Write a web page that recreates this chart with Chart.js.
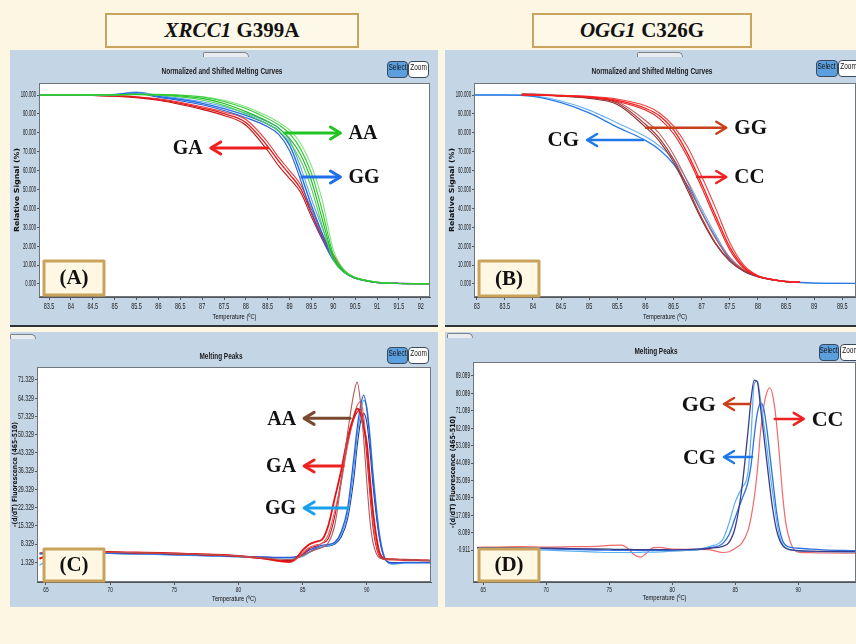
<!DOCTYPE html>
<html>
<head>
<meta charset="utf-8">
<script src="https://cdn.jsdelivr.net/npm/chart.js@4.4.1/dist/chart.umd.min.js"></script>
<style>
    body { margin: 0; width: 856px; height: 644px; overflow: hidden; position: relative; background: #fcf6e2; }
    .gene { position: absolute; top: 13px; height: 31px; border: 2px solid #c9a45e; background: #fdf8e8;
            font: bold 21px "Liberation Serif", "Times New Roman", serif; text-align: center; line-height: 31px; color: #111; }
    .panel { position: absolute; background: #c4d5e6; overflow: hidden; }
    .panel canvas { position: absolute; left: 0; top: 0; }
    .btn { position: absolute; height: 15px; border: 1px solid #3a4a5a; border-radius: 4px; line-height: 15px; text-align: center;
           font: 9px "Liberation Sans", Arial, sans-serif; color: #111; overflow: hidden; white-space: nowrap; }
    .btn span { display: inline-block; transform: scaleX(0.72); transform-origin: 50% 50%; margin: 0 -6px; }
    .sel { background: #5b9fdf; }
    .zm { background: #fff; }
    .tab { position: absolute; height: 4px; border: 1px solid #7d838b; border-bottom: none; background: #e9ecef; border-radius: 2px 6px 0 0; }
    .rule { position: absolute; left: 0; right: 0; bottom: 0; height: 2px; background: #30343a; }
</style>
</head>
<body>

<div class="gene" style="left:105px; width:250px;"><i>XRCC1</i> G399A</div>
<div class="gene" style="left:532px; width:216px;"><i>OGG1</i> C326G</div>

<div class="panel" style="left:10px; top:50px; width:428px; height:277px;">
    <canvas id="chartA" width="428" height="277"></canvas>
    <div class="tab" style="left:193px; top:2px; width:44px;"></div>
    <div class="btn sel" style="left:377px; top:11px; width:19px;"><span>Select</span></div>
    <div class="btn zm" style="left:398px; top:11px; width:19px;"><span>Zoom</span></div>
    <div class="rule"></div>
</div>
<div class="panel" style="left:445px; top:50px; width:411px; height:277px;">
    <canvas id="chartB" width="411" height="277"></canvas>
    <div class="tab" style="left:192px; top:2px; width:44px;"></div>
    <div class="btn sel" style="left:371px; top:10px; width:20px;"><span>Select</span></div>
    <div class="btn zm" style="left:393px; top:10px; width:20px;"><span>Zoom</span></div>
    <div class="rule"></div>
</div>
<div class="panel" style="left:10px; top:332px; width:428px; height:275px;">
    <canvas id="chartC" width="428" height="275"></canvas>
    <div class="tab" style="left:0px; top:2px; width:24px;"></div>
    <div class="btn sel" style="left:377px; top:15px; width:19px;"><span>Select</span></div>
    <div class="btn zm" style="left:398px; top:15px; width:19px;"><span>Zoom</span></div>
</div>
<div class="panel" style="left:445px; top:332px; width:411px; height:275px;">
    <canvas id="chartD" width="411" height="275"></canvas>
    <div class="tab" style="left:2px; top:1px; width:24px;"></div>
    <div class="btn sel" style="left:374px; top:12px; width:18px;"><span>Select</span></div>
    <div class="btn zm" style="left:395px; top:12px; width:20px;"><span>Zoom</span></div>
</div>

<script>
// ---- panel A: XRCC1 normalized melting curves ----
const tempA = [83.3, 84, 84.5, 85, 85.5, 86, 86.5, 87, 87.5, 88, 88.5, 88.75, 89, 89.25, 89.5, 89.75, 90, 90.25, 90.5, 90.75, 91, 91.5, 92.2];
const aaA1 = [100, 100, 100.1, 100.2, 100.4, 100.3, 99.9, 98.9, 96.6, 92.8, 87.5, 84.2, 79.5, 71.5, 58.5, 38.5, 15.5, 7, 3.4, 1.9, 0.9, 0.3, 0.2];
const aaA2 = [100, 100, 100, 100.1, 100.3, 100.1, 99.5, 98.2, 95.5, 91.2, 86, 82.5, 77, 68.5, 54.5, 34, 14, 6.5, 3.2, 1.8, 0.8, 0.3, 0.2];
const aaA3 = [100, 100, 100, 100.1, 100.5, 100.4, 100, 99.2, 97.2, 93.8, 88.8, 85.6, 81.5, 74.5, 62.5, 44, 18, 7.5, 3.6, 2, 1, 0.3, 0.2];
const aaA4 = [100, 100, 100, 100, 100.2, 99.9, 99, 97.4, 94.5, 90, 84.6, 81, 75, 65.5, 50.5, 30.5, 12.8, 6.2, 3.1, 1.7, 0.8, 0.3, 0.2];
const ggA1 = [100, 100, 99.9, 100.2, 101.2, 99.2, 97.6, 95.6, 92.8, 89.2, 84.6, 81, 73.5, 58.5, 41.5, 26.5, 13.4, 6.2, 3.1, 1.7, 0.8, 0.3, 0.2];
const ggA2 = [100, 100, 100, 100.4, 101.6, 99.8, 98.3, 96.4, 93.8, 90.4, 85.8, 82.6, 76, 62, 45, 29.5, 14.2, 6.5, 3.2, 1.8, 0.8, 0.3, 0.2];
const ggA3 = [100, 100, 99.8, 100, 100.8, 98.8, 97, 94.8, 91.8, 88, 83.2, 79.2, 70.5, 55, 37.5, 23.5, 12.5, 6, 3, 1.7, 0.8, 0.3, 0.2];
const gaA1 = [100, 100, 99.8, 99.5, 98.9, 97.6, 95.6, 93.1, 90.1, 85.5, 72.8, 65, 58, 50.5, 37.5, 24.8, 14.8, 6.8, 3.3, 1.8, 0.8, 0.3, 0.2];
const gaA2 = [100, 100, 99.9, 99.6, 99.1, 98, 96.2, 93.8, 91, 87, 75, 67, 60, 52.5, 39.5, 26.2, 15.5, 7, 3.4, 1.9, 0.9, 0.3, 0.2];
const gaA3 = [100, 100, 99.7, 99.3, 98.6, 97.2, 95, 92.4, 89.2, 84, 70.5, 62.5, 55.8, 48.5, 35.5, 23.5, 14, 6.5, 3.2, 1.8, 0.8, 0.3, 0.2];
const ticksXA = [83.5, 84, 84.5, 85, 85.5, 86, 86.5, 87, 87.5, 88, 88.5, 89, 89.5, 90, 90.5, 91, 91.5, 92];
const ticksYA = [0, 10, 20, 30, 40, 50, 60, 70, 80, 90, 100];

// ---- panel B: OGG1 normalized melting curves ----
const tempB = [82.95, 83.5, 84, 84.5, 85, 85.5, 86, 86.25, 86.5, 86.75, 87, 87.25, 87.5, 87.75, 88, 88.25, 88.5, 88.75, 89, 89.74];
const cgB1 = [100, 100, 99.3, 96, 90.5, 83, 76, 71, 63.5, 52, 38, 24.5, 13, 6.8, 3.8, 2.3, 1.3, 0.8, 0.5, 0.3];
const cgB2 = [100, 100, 99.6, 96.8, 92, 85.2, 78, 73, 66, 54.5, 40, 26, 14, 7.2, 4, 2.4, 1.4, 0.8, 0.5, 0.3];
const tempB2 = [83.8, 84, 84.5, 85, 85.5, 86, 86.25, 86.5, 86.75, 87, 87.25, 87.5, 87.75, 88, 88.25, 88.5, 88.75];
const ggB1 = [100.4, 100.5, 99.6, 98.6, 95.8, 84.5, 77, 66, 51, 35, 21.5, 12.5, 7, 4, 2.3, 1.3, 1];
const ggB2 = [100.2, 100.3, 99.8, 98.9, 96.4, 86.5, 79.5, 68.5, 54, 38, 24, 14, 7.5, 4.2, 2.4, 1.4, 1];
const ggB3 = [100.6, 100.4, 99.4, 98.2, 95, 83, 75.5, 64.5, 49.5, 34, 21, 12, 6.8, 3.9, 2.2, 1.2, 0.9];
const ccB1 = [100, 100, 99.6, 99, 97.2, 93, 89, 81.5, 69, 53, 36, 19.5, 9, 4.2, 2.4, 1.3, 1];
const ccB2 = [100, 100, 99.8, 99.3, 97.8, 94.3, 90.5, 83.5, 72.5, 57, 40, 22, 10, 4.5, 2.5, 1.4, 1];
const ccB3 = [100, 100, 99.5, 98.8, 96.6, 92, 87.5, 79.5, 67, 51, 34, 18, 8.3, 4, 2.3, 1.2, 0.9];
const ticksXB = [83, 83.5, 84, 84.5, 85, 85.5, 86, 86.5, 87, 87.5, 88, 88.5, 89, 89.5];

// ---- panel C: XRCC1 melting peaks ----
const tempC = [64.5, 66, 68, 70, 72, 74, 76, 78, 80, 82, 83, 84, 84.5, 85, 85.5, 86, 86.5, 87, 87.5, 88, 88.5, 89, 89.25, 89.5, 89.75, 90, 90.25, 90.5, 91, 91.5, 92, 93, 94, 95];
const aaC = [5, 5.3, 5.3, 5.2, 5, 4.8, 4.5, 4.2, 3.8, 3, 2.6, 2.4, 2.8, 4, 5.2, 6.2, 7, 8.8, 15.5, 32, 51, 66.5, 70.5, 63, 49, 32, 17, 8.5, 3, 2.5, 2.5, 2.3, 2.2, 2];
const gaC1 = [2.8, 5.2, 5.4, 5.3, 5.1, 4.9, 4.6, 4.3, 3.8, 2.8, 2, 1.6, 3, 6, 8.2, 9.2, 10, 15.5, 26, 36.5, 49, 57.5, 60.3, 58.5, 53, 47, 33, 20, 5, 2.6, 2.5, 2.3, 2.2, 2];
const gaC2 = [2.5, 5.1, 5.3, 5.2, 5, 4.8, 4.5, 4.2, 3.7, 2.6, 1.8, 1.3, 2.5, 5, 7, 8, 8.6, 12, 21, 32, 46, 57.5, 61.5, 63, 57.5, 45, 30, 16, 4, 2.3, 2.3, 2.2, 2.1, 1.9];
const gaC3 = [3, 5, 5.2, 5.1, 4.9, 4.7, 4.4, 4.1, 3.6, 2.7, 2.2, 2, 2.8, 4.2, 6.5, 7.5, 8.6, 10.5, 19, 33, 47, 56.5, 59, 60, 55, 42, 27, 14, 3.5, 2.4, 2.4, 2.3, 2.2, 2];
const ggC1 = [4.8, 5, 5, 4.9, 4.7, 4.5, 4.2, 3.9, 3.6, 3.3, 3.2, 3.2, 3.5, 4.5, 6, 7, 7.8, 8.2, 9, 13, 22, 42, 53, 61, 65.5, 60, 48, 33, 11, 2, 1, 1.2, 1.2, 1.2];
const ggC2 = [0.2, 4.6, 4.8, 4.7, 4.5, 4.3, 4, 3.7, 3.4, 3.2, 3, 3, 3.2, 3.6, 5, 6.3, 7.2, 7.8, 8.6, 12, 20, 38, 50, 58, 63.5, 61, 50, 35, 12, 2, 0.6, 1.1, 1.1, 1.1];
const ggC3 = [4.5, 4.8, 4.8, 4.7, 4.5, 4.3, 4.1, 3.8, 3.5, 3.3, 3.1, 3.1, 3.3, 4, 5.2, 6.5, 7.2, 7.6, 8.3, 11, 18, 34, 46, 55, 58.5, 55, 44, 30, 10, 2, 1.2, 1.3, 1.3, 1.3];
const ticksXC = [65, 70, 75, 80, 85, 90];
const ticksYC = [1.329, 8.329, 15.329, 22.329, 29.329, 36.329, 43.329, 50.329, 57.329, 64.329, 71.329];

// ---- panel D: OGG1 melting peaks ----
const tempD = [64.5, 66, 68, 70, 72, 74, 75, 76, 76.5, 77, 77.5, 78, 78.5, 79, 80, 82, 83, 84, 84.5, 85, 85.5, 86, 86.25, 86.5, 86.75, 87, 87.25, 87.5, 87.75, 88, 88.25, 88.5, 88.75, 89, 89.5, 90, 91, 92, 94.5];
const ggD = [0.2, 0.2, 0.1, 0, -0.2, -0.4, -0.5, -0.6, -0.6, -0.7, -0.7, -0.7, -0.7, -0.7, -0.8, -0.5, 0, 1, 3, 11, 30, 60, 77, 87, 86, 73, 59, 45, 31, 19, 10, 4.5, 1.5, 0, -1, -1.3, -1.5, -1.6, -1.8];
const cgD1 = [0, 0, -0.5, -1, -1.5, -2, -2.2, -2.2, -2.2, -2.2, -2.1, -2, -2, -1.9, -1.5, -0.5, 1, 4.5, 13, 24, 31, 39, 58, 85, 86.5, 77, 65, 52.5, 39, 27, 15.5, 6.5, 2, 0.3, -0.8, -1.2, -1.6, -1.8, -2];
const cgD2 = [0.3, 0.2, 0, -0.3, -0.6, -0.9, -1, -1.1, -1.1, -1.1, -1.1, -1.1, -1.1, -1.1, -1.2, -0.8, 0.3, 2.5, 7, 16, 25, 34, 43, 58, 70, 75, 72.5, 62, 48, 34, 20, 10, 4, 1.5, 0.3, 0, -0.5, -0.8, -1.2];
const ccD = [0.5, 0.6, 0.8, 0.6, 0.8, 1, 1.5, 1.6, -0.3, -3.5, -4.6, -2.2, 0.3, 0.4, -0.5, -0.6, -0.8, -2.2, -1.8, 0, 2.5, 9, 16, 26, 40, 60, 73, 80.5, 83, 78, 66, 48, 28, 13.5, 1, -2, -2.3, -2.4, -2.6];
const ticksXD = [65, 70, 75, 80, 85, 90];
const ticksYD = [-0.911, 8.089, 17.089, 26.089, 35.089, 44.089, 53.089, 62.089, 71.089, 80.089, 89.089];

const SANS = '"Liberation Sans", Arial, sans-serif';
const SERIF = '"Liberation Serif", "Times New Roman", serif';

function line(x, y, color, width) {
    return {
        data: x.map((t, i) => ({ x: t, y: y[i] })),
        borderColor: color,
        borderWidth: width || 1.1,
        pointRadius: 0,
        fill: false,
        cubicInterpolationMode: 'monotone'
    };
}

// text squeezed horizontally, like the narrow font of the instrument software
function squeezed(ctx, text, x, y, sx) {
    ctx.save();
    ctx.translate(x, y);
    ctx.scale(sx, 1);
    ctx.fillText(text, 0, 0);
    ctx.restore();
}

function fitted(ctx, text, x, y, width) {
    squeezed(ctx, text, x, y, width / ctx.measureText(text).width);
}

// title, tick labels, axis titles, arrows, genotype labels and the (A)-(D) tag box
function decor(cfg) {
    return {
        id: 'decor',
        beforeDraw(chart) {
            const { ctx, chartArea: a } = chart;
            ctx.save();
            ctx.fillStyle = '#ffffff';
            ctx.fillRect(a.left, a.top, a.right - a.left, a.bottom - a.top);
            ctx.restore();
        },
        afterDatasetsDraw(chart) {
            const { ctx, chartArea: a, scales } = chart;
            ctx.save();
            ctx.strokeStyle = '#6f757c';
            ctx.lineWidth = 1;
            ctx.strokeRect(a.left + 0.5, a.top + 0.5, a.right - a.left - 1, a.bottom - a.top - 1);

            ctx.fillStyle = '#1a1a1a';
            ctx.textAlign = 'center';
            ctx.textBaseline = 'middle';
            ctx.font = 'bold 9px ' + SANS;
            fitted(ctx, cfg.title, cfg.titleAt[0], cfg.titleAt[1], cfg.titleWidth);

            // tick labels
            ctx.fillStyle = '#222';
            ctx.font = cfg.xLabelSize + 'px ' + SANS;
            ctx.textAlign = 'center';
            ctx.textBaseline = 'middle';
            scales.x.ticks.forEach(t => {
                squeezed(ctx, String(t.value), scales.x.getPixelForValue(t.value), a.bottom + cfg.xLabelGap, 0.65);
            });
            ctx.font = '8.5px ' + SANS;
            ctx.textAlign = 'right';
            scales.y.ticks.forEach(t => {
                squeezed(ctx, t.value.toFixed(3), a.left - 3, scales.y.getPixelForValue(t.value), cfg.ySqueeze);
            });

            // axis titles
            ctx.fillStyle = '#111';
            ctx.textAlign = 'center';
            ctx.font = '7.5px ' + SANS;
            fitted(ctx, 'Temperature (ºC)', (a.left + a.right) / 2, cfg.xTitleY, 44);
            ctx.save();
            ctx.translate(cfg.yTitleX, (a.top + a.bottom) / 2);
            ctx.rotate(-Math.PI / 2);
            ctx.font = 'bold 7px "DejaVu Sans", ' + SANS;
            fitted(ctx, cfg.yTitle, 0, 0, cfg.yTitleWidth);
            ctx.restore();

            cfg.arrows.forEach(ar => {
                const x1 = scales.x.getPixelForValue(ar.from);
                const x2 = scales.x.getPixelForValue(ar.to);
                const y = scales.y.getPixelForValue(ar.at);
                const dir = Math.sign(x2 - x1);
                ctx.strokeStyle = ar.color;
                ctx.lineWidth = cfg.arrowWidth;
                ctx.lineCap = 'round';
                ctx.lineJoin = 'round';
                ctx.beginPath();
                ctx.moveTo(x1, y);
                ctx.lineTo(x2, y);
                ctx.stroke();
                ctx.beginPath();
                ctx.moveTo(x2 - dir * 9, y - 6);
                ctx.lineTo(x2 + dir, y);
                ctx.lineTo(x2 - dir * 9, y + 6);
                ctx.stroke();
                ctx.fillStyle = '#111';
                ctx.font = 'bold ' + cfg.labelSize + 'px ' + SERIF;
                ctx.textAlign = dir > 0 ? 'left' : 'right';
                ctx.fillText(ar.label, x2 + dir * 9, y + 1);
            });

            const b = cfg.tagBox;
            ctx.fillStyle = '#fdf7e3';
            ctx.fillRect(b[0], b[1], b[2] - b[0], b[3] - b[1]);
            ctx.strokeStyle = '#c9a35c';
            ctx.lineWidth = 3;
            ctx.strokeRect(b[0], b[1], b[2] - b[0], b[3] - b[1]);
            ctx.fillStyle = '#111';
            ctx.font = 'bold 21px ' + SERIF;
            ctx.textAlign = 'center';
            ctx.fillText(cfg.tag, (b[0] + b[2]) / 2, (b[1] + b[3]) / 2 + 1);
            ctx.restore();
        }
    };
}

function makeChart(id, cfg) {
    const canvas = document.getElementById(id);
    const H = canvas.height;
    const W = canvas.width;
    return new Chart(canvas, {
        type: 'line',
        data: { datasets: cfg.series },
        options: {
            responsive: false,
            animation: false,
            layout: { padding: { left: 0, top: cfg.area.top, right: W - cfg.area.right, bottom: 0 } },
            plugins: { legend: { display: false }, tooltip: { enabled: false }, title: { display: false } },
            scales: {
                x: {
                    type: 'linear',
                    min: cfg.xRange[0],
                    max: cfg.xRange[1],
                    afterBuildTicks: s => { s.ticks = cfg.xTicks.map(v => ({ value: v })); },
                    afterFit: s => { s.height = H - cfg.area.bottom; },
                    ticks: { display: false },
                    grid: { drawOnChartArea: false, drawTicks: true, tickLength: 3, color: '#555' },
                    border: { display: true, color: '#555' }
                },
                y: {
                    type: 'linear',
                    min: cfg.yRange[0],
                    max: cfg.yRange[1],
                    afterBuildTicks: s => { s.ticks = cfg.yTicks.map(v => ({ value: v })); },
                    afterFit: s => { s.width = cfg.area.left; },
                    ticks: { display: false },
                    grid: { drawOnChartArea: false, drawTicks: true, tickLength: 2, color: '#555' },
                    border: { display: true, color: '#555' }
                }
            }
        },
        plugins: [decor(cfg)]
    });
}

makeChart('chartA', {
    area: { left: 29, top: 33, right: 420, bottom: 247 },
    xRange: [83.27, 92.21], yRange: [-6.88, 106.35],
    xTicks: ticksXA, yTicks: ticksYA, ySqueeze: 0.5, xLabelGap: 10, xLabelSize: 8.5,
    yTitle: 'Relative Signal (%)', yTitleX: 7, yTitleWidth: 84, xTitleY: 267,
    title: 'Normalized and Shifted Melting Curves', titleAt: [212, 22], titleWidth: 121,
    tag: '(A)', tagBox: [34, 211, 94, 245],
    arrowWidth: 3, labelSize: 20,
    arrows: [
        { from: 88.89, to: 90.14, at: 79.9, color: '#22c322', label: 'AA' },
        { from: 88.5, to: 87.22, at: 72, color: '#ee2020', label: 'GA' },
        { from: 89.28, to: 90.14, at: 56.6, color: '#1f6fe8', label: 'GG' }
    ],
    series: [
        line(tempA, aaA1, '#2ccc2c'), line(tempA, aaA2, '#1fb81f'), line(tempA, aaA3, '#82e082'), line(tempA, aaA4, '#4fd34f'),
        line(tempA, ggA1, '#1f6fe8', 1.4), line(tempA, ggA2, '#5da2f2'), line(tempA, ggA3, '#2a62d0'),
        line(tempA, gaA1, '#e01818', 1.3), line(tempA, gaA2, '#ef3a3a'), line(tempA, gaA3, '#c41414')
    ]
});

makeChart('chartB', {
    area: { left: 29, top: 33, right: 411, bottom: 247 },
    xRange: [82.952, 89.744], yRange: [-6.88, 106.35],
    xTicks: ticksXB, yTicks: ticksYA, ySqueeze: 0.5, xLabelGap: 10, xLabelSize: 8.5,
    yTitle: 'Relative Signal (%)', yTitleX: 7, yTitleWidth: 84, xTitleY: 267,
    title: 'Normalized and Shifted Melting Curves', titleAt: [207, 22], titleWidth: 121,
    tag: '(B)', tagBox: [34, 211, 94, 246],
    arrowWidth: 2.5, labelSize: 21,
    arrows: [
        { from: 86.01, to: 87.42, at: 82.7, color: '#c8401a', label: 'GG' },
        { from: 85.96, to: 84.98, at: 76.2, color: '#1f78e8', label: 'CG' },
        { from: 86.92, to: 87.42, at: 56.6, color: '#ee2020', label: 'CC' }
    ],
    series: [
        line(tempB2, ccB1, '#ff1a1a', 1.3), line(tempB2, ccB2, '#f04040'), line(tempB2, ccB3, '#e02020'),
        line(tempB2, ggB1, '#a83838', 1.2), line(tempB2, ggB2, '#c06060'), line(tempB2, ggB3, '#8a3030'),
        line(tempB, cgB1, '#2a7ae6', 1.3), line(tempB, cgB2, '#6ab0f0')
    ]
});

makeChart('chartC', {
    area: { left: 27, top: 35, right: 421, bottom: 250 },
    xRange: [64.3, 95.0], yRange: [-6.236, 76.32],
    xTicks: ticksXC, yTicks: ticksYC, ySqueeze: 0.62, xLabelGap: 8, xLabelSize: 7.5,
    yTitle: '-(d/dT) Fluorescence (465-510)', yTitleX: 5, yTitleWidth: 105, xTitleY: 267,
    title: 'Melting Peaks', titleAt: [211, 25], titleWidth: 43,
    tag: '(C)', tagBox: [34, 217, 94, 249],
    arrowWidth: 3, labelSize: 20,
    arrows: [
        { from: 88.69, to: 85.19, at: 56.6, color: '#7a4a30', label: 'AA' },
        { from: 88.15, to: 85.19, at: 38.3, color: '#ee2020', label: 'GA' },
        { from: 88.54, to: 85.19, at: 22.2, color: '#18a0ec', label: 'GG' }
    ],
    series: [
        line(tempC, aaC, '#b05a5a'),
        line(tempC, gaC1, '#e01414', 1.8), line(tempC, gaC2, '#f05a5a'), line(tempC, gaC3, '#c01028'),
        line(tempC, ggC1, '#2a5ed8', 1.3), line(tempC, ggC2, '#50aaf0', 1.2), line(tempC, ggC3, '#203c9c')
    ]
});

makeChart('chartD', {
    area: { left: 28, top: 30, right: 411, bottom: 250 },
    xRange: [64.18, 94.58], yRange: [-17.46, 96.33],
    xTicks: ticksXD, yTicks: ticksYD, ySqueeze: 0.55, xLabelGap: 8, xLabelSize: 7.5,
    yTitle: '-(d/dT) Fluorescence (465-510)', yTitleX: 8, yTitleWidth: 112, xTitleY: 266,
    title: 'Melting Peaks', titleAt: [211, 20], titleWidth: 43,
    tag: '(D)', tagBox: [34, 217, 94, 249],
    arrowWidth: 2.5, labelSize: 22,
    arrows: [
        { from: 86.17, to: 84.18, at: 74.6, color: '#c8401a', label: 'GG' },
        { from: 86.33, to: 84.18, at: 47.2, color: '#1f78e8', label: 'CG' },
        { from: 88.13, to: 90.35, at: 66.9, color: '#ee2020', label: 'CC' }
    ],
    series: [
        line(tempD, ggD, '#3c3c8c', 1.3),
        line(tempD, cgD1, '#5ab0f0', 1.2), line(tempD, cgD2, '#2f72e0', 1.3),
        line(tempD, ccD, '#f06a6a', 1.2)
    ]
});
</script>
</body>
</html>
